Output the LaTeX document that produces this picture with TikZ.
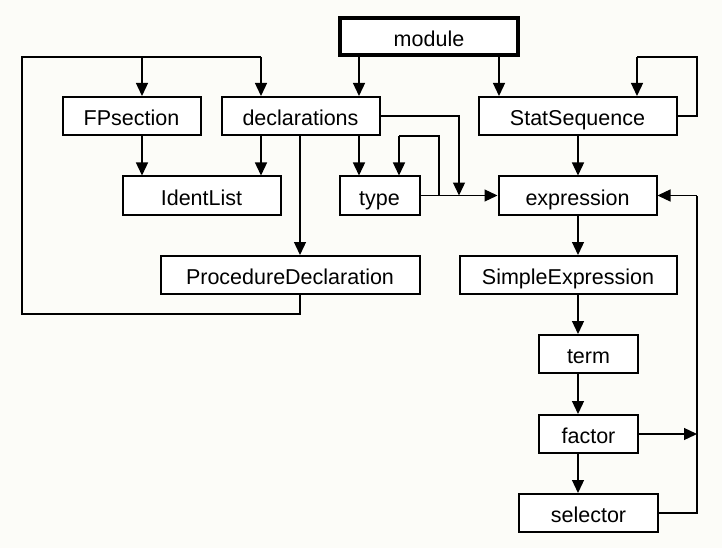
\documentclass[tikz,border=0pt]{standalone}
\usepackage{fontspec}
\setmainfont{Liberation Sans}
\usetikzlibrary{arrows.meta}
\definecolor{bg}{RGB}{252,252,248}
\tikzset{
  box/.style={draw=black, line width=2pt, fill=white, inner sep=0pt, minimum height=38pt,
    font=\fontsize{21.5}{24}\selectfont, text height=21pt, text depth=2pt},
  conn/.style={line width=1.3pt, draw=black},
  arr/.style={conn, -{Triangle[length=13pt,width=12pt]}},
}
\begin{document}
\begin{tikzpicture}[x=1pt,y=-1pt]
\fill[bg] (0,0) rectangle (722,548);
\useasboundingbox (0,0) rectangle (722,548);
% nodes
\node[box, line width=4pt, minimum width=178pt, minimum height=37pt] (module) at (429,37) {module};
\node[box, minimum width=138pt] (fps) at (131.5,116) {FPsection};
\node[box, minimum width=158pt] (decl) at (300.5,116) {declarations};
\node[box, minimum width=198pt] (stat) at (577.5,116) {StatSequence};
\node[box, minimum width=158pt] (ident) at (201.5,195.5) {IdentList};
\node[box, minimum width=80pt] (type) at (379.5,195.5) {type};
\node[box, minimum width=158pt] (expr) at (577.5,195.5) {expression};
\node[box, minimum width=259pt] (proc) at (290,275) {ProcedureDeclaration};
\node[box, minimum width=217pt] (simple) at (568,275) {SimpleExpression};
\node[box, minimum width=99pt] (term) at (588.5,354) {term};
\node[box, minimum width=99pt] (factor) at (588.5,434) {factor};
\node[box, minimum width=139pt] (sel) at (588.5,513) {selector};
% helper coordinates
\coordinate (x22) at (22,0);
\coordinate (x142) at (142,0);
\coordinate (x261) at (261,0);
\coordinate (x300) at (300,0);
\coordinate (x359) at (359,0);
\coordinate (x399) at (399,0);
\coordinate (x439) at (439,0);
\coordinate (x459) at (459,0);
\coordinate (x499) at (499,0);
\coordinate (x578) at (578,0);
\coordinate (x637) at (637,0);
\coordinate (x697) at (697,0);
\coordinate (ytop) at (0,57);
\coordinate (yproc) at (0,314);
% module
\draw[arr] (module.south -| x359) -- (decl.north -| x359);
\draw[arr] (module.south -| x499) -- (stat.north -| x499);
% procedure loop
\draw[conn] (proc.south -| x300) -- (yproc -| x300) -- (yproc -| x22) -- (ytop -| x22) -- (ytop -| x261);
\draw[arr] (ytop -| x261) -- (decl.north -| x261);
\draw[arr] (ytop -| x142) -- (fps.north -| x142);
% declarations
\draw[arr] (fps.south -| x142) -- (ident.north -| x142);
\draw[arr] (decl.south -| x261) -- (ident.north -| x261);
\draw[arr] (decl.south -| x300) -- (proc.north -| x300);
\draw[arr] (decl.south -| x359) -- (type.north -| x359);
\draw[arr] (decl.east) -- (decl.east -| x459) -- (type.east -| x459);
% type
\draw[conn] (type.east) -- (type.east -| x439) -- (decl.south -| x439) -- (decl.south -| x399);
\draw[arr] (decl.south -| x399) -- (type.north -| x399);
\draw[arr] (type.east) -- (expr.west);
% StatSequence
\draw[conn] (stat.east) -- (stat.east -| x697) -- (ytop -| x697) -- (ytop -| x637);
\draw[arr] (ytop -| x637) -- (stat.north -| x637);
\draw[arr] (stat.south -| x578) -- (expr.north -| x578);
% expression chain
\draw[arr] (expr.south -| x578) -- (simple.north -| x578);
\draw[arr] (simple.south -| x578) -- (term.north -| x578);
\draw[arr] (term.south -| x578) -- (factor.north -| x578);
\draw[arr] (factor.south -| x578) -- (sel.north -| x578);
\draw[conn] (sel.east) -- (sel.east -| x697) -- (expr.east -| x697);
\draw[arr] (expr.east -| x697) -- (expr.east);
\draw[arr] (factor.east) -- (factor.east -| x697);
\end{tikzpicture}
\end{document}
